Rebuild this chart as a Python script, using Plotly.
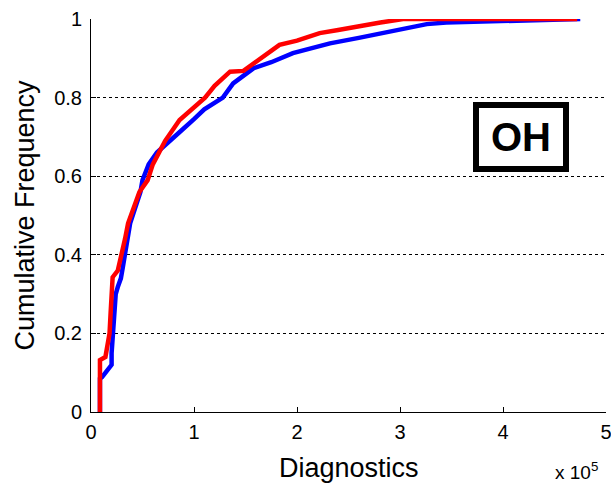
import plotly.graph_objects as go

red_x = [0.087, 0.087, 0.14, 0.16, 0.18, 0.19, 0.20, 0.21, 0.26, 0.28, 0.30, 0.33, 0.36,
         0.40, 0.47, 0.55, 0.60, 0.66, 0.72, 0.86, 1.00, 1.107, 1.20, 1.35, 1.48, 1.60,
         1.70, 1.83, 2.00, 2.22, 2.40, 2.60, 2.81, 3.03, 4.72]
red_y = [0.0, 0.132, 0.14, 0.17, 0.20, 0.25, 0.30, 0.343, 0.36, 0.38, 0.40, 0.44, 0.48,
         0.51, 0.56, 0.59, 0.63, 0.66, 0.69, 0.743, 0.775, 0.80, 0.83, 0.866, 0.868, 0.89,
         0.91, 0.934, 0.945, 0.964, 0.972, 0.982, 0.991, 1.0, 1.0]

blue_x = [0.087, 0.087, 0.107, 0.20, 0.20, 0.21, 0.22, 0.24, 0.26, 0.29, 0.31, 0.33, 0.36,
          0.38, 0.43, 0.48, 0.50, 0.56, 0.64, 0.76, 0.864, 1.00, 1.10, 1.28, 1.38, 1.58,
          1.75, 1.96, 2.15, 2.32, 2.60, 2.81, 2.97, 3.13, 3.26, 3.45, 3.71, 4.00, 4.49, 4.75]
blue_y = [0.0, 0.085, 0.089, 0.12, 0.15, 0.20, 0.25, 0.30, 0.318, 0.34, 0.37, 0.40, 0.44,
          0.48, 0.52, 0.56, 0.59, 0.63, 0.66, 0.69, 0.713, 0.745, 0.77, 0.80, 0.836, 0.875,
          0.89, 0.913, 0.925, 0.938, 0.952, 0.963, 0.972, 0.980, 0.987, 0.991, 0.993, 0.996,
          1.0, 1.0]

x_ticks = [0, 1, 2, 3, 4, 5]
x_tick_labels = ["0", "1", "2", "3", "4", "5"]
y_ticks = [0, 0.2, 0.4, 0.6, 0.8, 1]
y_tick_labels = ["0", "0.2", "0.4", "0.6", "0.8", "1"]

FONT = "Liberation Sans, Arial, Helvetica, sans-serif"

fig = go.Figure()
fig.add_trace(go.Scatter(x=blue_x, y=blue_y, mode="lines",
                         line=dict(color="#0000FF", width=4.5), name="blue"))
fig.add_trace(go.Scatter(x=red_x, y=red_y, mode="lines",
                         line=dict(color="#FF0000", width=4.5), name="red"))

fig.update_layout(
    width=611, height=485,
    margin=dict(l=91, r=5, t=19, b=73),
    plot_bgcolor="white", paper_bgcolor="white",
    showlegend=False,
    font=dict(family=FONT, color="black"),
)

fig.update_xaxes(
    range=[0, 5], tickvals=x_ticks, ticktext=x_tick_labels,
    ticks="inside", ticklen=5, tickcolor="black", tickwidth=1,
    showline=True, linecolor="black", linewidth=1,
    showgrid=False, zeroline=False, automargin=False,
    tickfont=dict(size=20, family=FONT, color="black"),
    ticklabelstandoff=2, ticklabeloverflow="allow",
)
fig.update_yaxes(
    range=[0, 1], tickvals=y_ticks, ticktext=y_tick_labels,
    ticks="inside", ticklen=5, tickcolor="black", tickwidth=1,
    showline=True, linecolor="black", linewidth=1,
    showgrid=True, gridcolor="black", griddash="dot", gridwidth=1,
    zeroline=False, automargin=False,
    tickfont=dict(size=20, family=FONT, color="black"),
    ticklabelstandoff=4, ticklabeloverflow="allow",
)

fig.add_annotation(text="Diagnostics", xref="paper", yref="paper", x=0.5, y=0,
                   yshift=-56, xanchor="center", yanchor="middle", showarrow=False,
                   font=dict(size=27, family=FONT, color="black"))
fig.add_annotation(text="Cumulative Frequency", xref="paper", yref="paper", x=0, y=0.5,
                   xshift=-67, textangle=-90, xanchor="center", yanchor="middle",
                   showarrow=False, font=dict(size=27, family=FONT, color="black"))
fig.add_annotation(text="x 10<sup>5</sup>", xref="paper", yref="paper", x=1, y=0,
                   xshift=-6, yshift=-59, xanchor="right", yanchor="middle",
                   showarrow=False, font=dict(size=19, family=FONT, color="black"))
fig.add_annotation(text="<b>OH</b>", xref="paper", yref="paper", x=0.835, y=0.70,
                   xanchor="center", yanchor="middle", showarrow=False,
                   width=80, height=54, borderwidth=6, bordercolor="black", borderpad=2,
                   bgcolor="white",
                   font=dict(size=40, family=FONT, color="black"))

fig.write_html("out.html", config={"displayModeBar": False},
               post_script="document.body.style.margin='0';document.body.style.padding='0';")
